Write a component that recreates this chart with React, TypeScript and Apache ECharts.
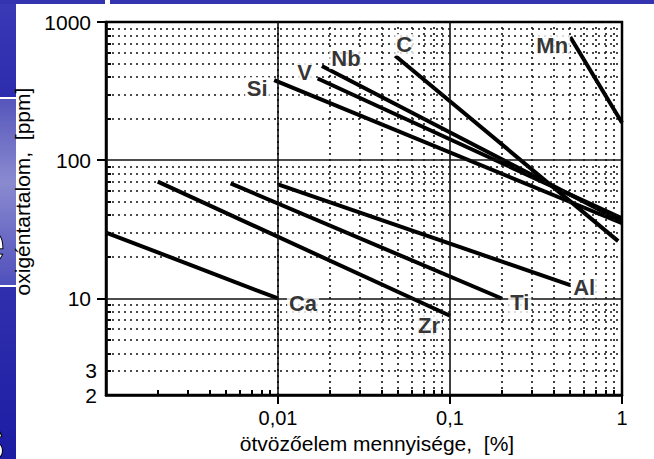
import React, { useEffect, useRef } from 'react';
import * as echarts from 'echarts';

// ---- data ----
const elements = ['Si', 'V', 'Nb', 'C', 'Mn', 'Al', 'Ti', 'Zr', 'Ca'];
const startX = [0.0095, 0.017, 0.018, 0.048, 0.5, 0.01, 0.0053, 0.002, 0.001];
const startY = [380, 390, 480, 570, 780, 67, 68, 70, 30];
const endX = [1, 1, 1, 0.95, 1, 0.5, 0.2, 0.1, 0.01];
const endY = [35, 38, 36, 26, 187, 12.5, 10, 7.5, 10];
const labelAtStart = [true, true, true, true, true, false, false, false, false];

const xTickLabels = [0.01, 0.1, 1];
const xMinorGrid = [0.002, 0.003, 0.004, 0.005, 0.006, 0.007, 0.008, 0.009,
  0.02, 0.03, 0.04, 0.05, 0.06, 0.07, 0.08, 0.09,
  0.2, 0.3, 0.4, 0.5, 0.6, 0.7, 0.8, 0.9];
const xMajorGrid = [0.01, 0.1];
const yMajorLabels = [10, 100, 1000];
const yMinorLabels = [2, 3];
const yMinorGrid = [3, 4, 5, 6, 7, 8, 9, 20, 30, 40, 50, 60, 70, 80, 90,
  200, 300, 400, 500, 600, 700, 800, 900];
const yMajorGrid = [10, 100];

// ---- styles ----
const labelOffset: Record<string, [number, number]> = {
  Si: [-17, 8], V: [-13, -6], Nb: [24, -8], C: [9, -11], Mn: [-18, 9],
  Al: [14, 2], Ti: [18, 4], Zr: [-21, 10], Ca: [25, 5],
};
const FONT = '"Liberation Sans Narrow", "Arial Narrow", "Liberation Sans", Arial, sans-serif';
const dotted = { color: '#111', width: 1.6, type: [2, 4] as number[] };
const solid = { color: '#111', width: 1.6, type: 'solid' as const };
const fmt = (v: number) => String(v).replace('.', ',');

export default function App() {
  const ref = useRef<HTMLDivElement>(null);
  useEffect(() => {
    if (!ref.current) return;
    const chart = echarts.init(ref.current, null, { renderer: 'svg' });

    const lineSeries = elements.map((name, i) => ({
      name,
      type: 'line',
      data: [[startX[i], startY[i]], [endX[i], endY[i]]],
      symbol: 'none',
      silent: true,
      z: 4,
      lineStyle: { color: '#000', width: 4 },
    }));

    const gridSeries = {
      type: 'scatter',
      data: [],
      silent: true,
      z: 1,
      markLine: {
        silent: true,
        symbol: ['none', 'none'],
        label: { show: false },
        animation: false,
        data: [
          ...xMinorGrid.map((v) => ({ xAxis: v, lineStyle: dotted })),
          ...yMinorGrid.map((v) => ({ yAxis: v, lineStyle: dotted })),
          ...xMajorGrid.map((v) => ({ xAxis: v, lineStyle: solid })),
          ...yMajorGrid.map((v) => ({ yAxis: v, lineStyle: solid })),
        ],
      },
    };

    const labelSeries = {
      type: 'scatter',
      silent: true,
      z: 6,
      symbolSize: 1,
      itemStyle: { color: 'rgba(0,0,0,0)' },
      data: elements.map((name, i) => ({
        name,
        value: labelAtStart[i] ? [startX[i], startY[i]] : [endX[i], endY[i]],
        label: { offset: labelOffset[name] },
      })),
      label: {
        show: true,
        position: 'inside',
        formatter: '{b}',
        fontFamily: FONT,
        fontWeight: 'bold',
        fontSize: 22,
        color: '#000',
        backgroundColor: '#fff',
        padding: [0, 2, 0, 2],
      },
    };

    const baseLog = { type: 'log', logBase: 10 } as const;

    chart.setOption({
      animation: false,
      backgroundColor: '#fff',
      grid: {
        left: 106, top: 22, right: 32, bottom: 62,
        show: true, borderColor: '#000', borderWidth: 2.5, backgroundColor: 'transparent',
      },
      xAxis: [
        {
          ...baseLog, min: 0.001, max: 1, position: 'bottom',
          name: 'ötvözőelem mennyisége,  [%]', nameLocation: 'middle', nameGap: 30,
          nameTextStyle: { fontFamily: FONT, fontSize: 21, color: '#000', padding: [0, 0, 0, 26] },
          axisLine: { show: true, lineStyle: { color: '#000', width: 2.5 } },
          axisTick: { show: true, inside: false, length: 9, customValues: xTickLabels, lineStyle: { color: '#000', width: 2 } },
          axisLabel: { customValues: xTickLabels, formatter: fmt, fontFamily: FONT, fontSize: 20, color: '#000', margin: 13 },
          splitLine: { show: false }, minorTick: { show: false },
        },
        {
          ...baseLog, min: 0.001, max: 1, position: 'bottom',
          axisLine: { show: false },
          axisTick: { show: true, inside: true, length: 5, customValues: xMinorGrid, lineStyle: { color: '#000', width: 2 } },
          axisLabel: { show: false },
          splitLine: { show: false },
        },
      ],
      yAxis: [
        {
          ...baseLog, min: 2, max: 1000, position: 'left',
          name: 'oxigéntartalom,  [ppm]', nameLocation: 'middle', nameGap: 49, nameRotate: 90,
          nameTextStyle: { fontFamily: FONT, fontSize: 21, color: '#000', padding: [0, 0, 0, 34] },
          axisLine: { show: true, lineStyle: { color: '#000', width: 2.5 } },
          axisTick: { show: true, inside: false, length: 9, customValues: yMajorLabels, lineStyle: { color: '#000', width: 2 } },
          axisLabel: { customValues: yMajorLabels, formatter: fmt, fontFamily: FONT, fontSize: 21, color: '#000', margin: 15 },
          splitLine: { show: false }, minorTick: { show: false },
        },
        {
          ...baseLog, min: 2, max: 1000, position: 'left',
          axisLine: { show: false },
          axisTick: { show: true, inside: true, length: 5, customValues: yMinorGrid, lineStyle: { color: '#000', width: 2 } },
          axisLabel: { customValues: yMinorLabels, formatter: fmt, fontFamily: FONT, fontSize: 21, color: '#000', margin: 9 },
          splitLine: { show: false },
        },
      ],
      graphic: [
        { type: 'rect', shape: { x: 0, y: 0, width: 16, height: 97 }, style: { fill: new echarts.graphic.LinearGradient(0, 0, 0, 1, [{ offset: 0, color: '#3a3ab6' }, { offset: 1, color: '#2c2cae' }]) }, silent: true },
        { type: 'rect', shape: { x: 0, y: 99, width: 16, height: 186 }, style: { fill: new echarts.graphic.LinearGradient(0, 0, 0, 1, [{ offset: 0, color: '#5656bc' }, { offset: 0.45, color: '#8a8ad0' }, { offset: 1, color: '#5050bc' }]) }, silent: true },
        { type: 'rect', shape: { x: 0, y: 287, width: 16, height: 172 }, style: { fill: new echarts.graphic.LinearGradient(0, 0, 0, 1, [{ offset: 0, color: '#3030ae' }, { offset: 1, color: '#1c1ca4' }]) }, silent: true },
        { type: 'rect', shape: { x: 0, y: 0, width: 105, height: 4 }, style: { fill: '#3434b0' }, silent: true },
        { type: 'rect', shape: { x: 110, y: 0, width: 544, height: 4 }, style: { fill: '#3434b0' }, silent: true },
        { type: 'text', x: -30, y: 241, style: { text: 'e', fontSize: 62, fontWeight: 'bold', fontFamily: 'Liberation Sans, Arial', fill: '#fff', stroke: '#000', lineWidth: 2, verticalAlign: 'middle' }, silent: true },
        { type: 'text', x: -30, y: 438, style: { text: 's', fontSize: 62, fontWeight: 'bold', fontFamily: 'Liberation Sans, Arial', fill: '#fff', stroke: '#000', lineWidth: 2, verticalAlign: 'middle' }, silent: true },
      ],
      series: [gridSeries, ...lineSeries, labelSeries],
    });
    return () => chart.dispose();
  }, []);
  return <div ref={ref} style={{ position: 'fixed', left: 0, top: 0, width: 654, height: 459, background: '#fff' }} />;
}
